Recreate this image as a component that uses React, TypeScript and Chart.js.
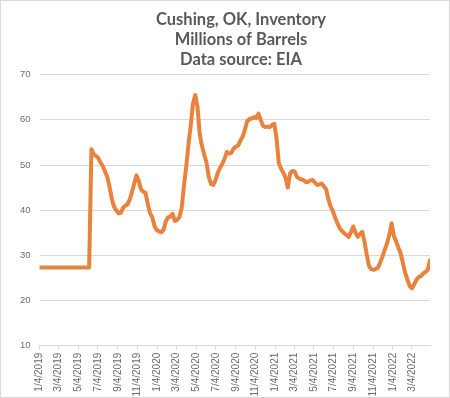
import React, { useEffect, useRef } from "react";
import { Chart, registerables } from "chart.js";

Chart.register(...registerables);

const titleLines = ["Cushing, OK, Inventory", "Millions of Barrels", "Data source: EIA"];

// Weekly observations, first week ending 1/4/2019
const startDate = "1/4/2019";

const inventory: number[] = [
  // 2019 Jan - Jun (flat section)
  27.3, 27.3, 27.3, 27.3, 27.3, 27.3, 27.3, 27.3, 27.3, 27.3,
  27.3, 27.3, 27.3, 27.3, 27.3, 27.3, 27.3, 27.3, 27.3, 27.3,
  27.3, 27.3, 27.3,
  // jump
  53.5, 52.4, 52.0, 51.6, 50.6, 49.8, 48.6, 47.4, 45.3, 42.6,
  40.8, 40.0, 39.3, 39.4, 40.5, 41.0, 41.3, 42.4, 44.0, 46.0,
  47.7, 46.4, 44.6, 44.1, 43.8, 41.3, 39.3, 38.4, 36.4, 35.6,
  35.3, 35.1, 35.7, 37.6, 38.4, 38.6, 39.2, 37.6, 37.9, 38.5,
  40.5, 45.5, 49.6, 54.5, 58.8, 63.6, 65.5, 62.8, 56.8, 54.2,
  52.3, 50.5, 47.3, 45.8, 45.6, 46.7, 48.3, 49.4, 50.3, 51.4,
  52.9, 52.5, 52.7, 53.6, 54.1, 54.3, 55.4, 56.3, 57.8, 59.7,
  60.2, 60.3, 60.6, 60.4, 61.4, 60.0, 58.7, 58.4, 58.5, 58.4,
  58.9, 59.1, 56.0, 50.5, 49.2, 48.3, 47.2, 45.0, 48.1, 48.7,
  48.6, 47.4, 47.0, 46.8, 46.7, 46.2, 46.3, 46.6, 46.7, 46.1,
  45.6, 45.7, 45.9, 45.3, 44.6, 42.4, 40.8, 39.8, 38.3, 37.1,
  36.0, 35.4, 34.9, 34.5, 34.1, 35.2, 36.4, 35.0, 34.1, 34.8,
  35.2, 33.0, 30.1, 27.6, 26.9, 26.8, 27.0, 27.3, 28.5, 29.8,
  31.3, 32.7, 34.6, 37.1, 34.3, 33.1, 31.7, 30.4, 28.3, 26.1,
  24.6, 23.2, 22.7, 23.6, 24.6, 25.2, 25.4, 26.0, 26.3, 26.8,
  28.9,
];

const xTickLabels = [
  "1/4/2019", "3/4/2019", "5/4/2019", "7/4/2019", "9/4/2019", "11/4/2019",
  "1/4/2020", "3/4/2020", "5/4/2020", "7/4/2020", "9/4/2020", "11/4/2020",
  "1/4/2021", "3/4/2021", "5/4/2021", "7/4/2021", "9/4/2021", "11/4/2021",
  "1/4/2022", "3/4/2022",
];

const yMin = 10;
const yMax = 70;
const yStep = 10;

const DAY = 86400000;
function parseMDY(s: string): number {
  const [m, d, y] = s.split("/").map(Number);
  return Date.UTC(y, m - 1, d);
}
const t0 = parseMDY(startDate);
const dayOf = (s: string) => Math.round((parseMDY(s) - t0) / DAY);

const titlePlugin = {
  id: "offsetTitle",
  afterDraw(chart: any) {
    const ctx = chart.ctx;
    ctx.save();
    ctx.fillStyle = "#595959";
    ctx.font = "bold 16.5px Lato";
    ctx.textAlign = "center";
    ctx.textBaseline = "middle";
    const cx = 240;
    const ys = [18.6, 39, 59];
    titleLines.forEach((t, i) => ctx.fillText(t, cx, ys[i]));
    ctx.restore();
  },
};

export default function App() {
  const ref = useRef<HTMLCanvasElement | null>(null);

  useEffect(() => {
    document.body.style.margin = "0";
    const canvas = ref.current;
    if (!canvas) return;

    const points = inventory.map((v, i) => ({ x: i * 7, y: v }));
    const tickDays = xTickLabels.map(dayOf);
    const labelByDay = new Map<number, string>();
    xTickLabels.forEach((l, i) => labelByDay.set(tickDays[i], l));

    const chart = new Chart(canvas, {
      type: "line",
      data: {
        datasets: [
          {
            data: points,
            borderColor: "#E8823C",
            borderWidth: 4,
            pointRadius: 0,
            tension: 0,
            borderJoinStyle: "round",
            borderCapStyle: "round",
            fill: false,
          },
        ],
      },
      options: {
        animation: false,
        responsive: false,
        maintainAspectRatio: false,
        layout: { padding: { left: 0, right: 19, top: 73.7, bottom: 0 } },
        plugins: {
          legend: { display: false },
          tooltip: { enabled: false },
          title: { display: false },
        },
        scales: {
          x: {
            type: "linear",
            min: 0,
            max: (inventory.length - 1) * 7,
            afterBuildTicks: (s: any) => {
              s.ticks = tickDays.map((v) => ({ value: v }));
            },
            afterFit: (s: any) => {
              s.height = 51.3;
            },
            ticks: {
              autoSkip: false,
              minRotation: 90,
              maxRotation: 90,
              padding: 3,
              color: "#6b6b6b",
              font: { family: "Liberation Sans", size: 10 },
              callback: (v: any) => labelByDay.get(Number(v)) ?? "",
            },
            grid: {
              display: true,
              drawOnChartArea: false,
              drawTicks: true,
              tickLength: 4,
              color: "#d9d9d9",
            },
            border: { display: true, color: "#d9d9d9" },
          },
          y: {
            min: yMin,
            max: yMax,
            afterFit: (s: any) => {
              s.width = 38.5;
            },
            ticks: {
              stepSize: yStep,
              padding: 9,
              color: "#6b6b6b",
              font: { family: "Liberation Sans", size: 9.5 },
            },
            grid: { color: "#d9d9d9", drawTicks: false, lineWidth: 1 },
            border: { display: false },
          },
        },
      },
      plugins: [titlePlugin],
    });
    return () => chart.destroy();
  }, []);

  return (
    <div
      style={{
        width: 448,
        height: 396,
        border: "1px solid #d9d9d9",
        background: "#fff",
      }}
    >
      <canvas ref={ref} width={448} height={396} style={{ display: "block" }} />
    </div>
  );
}
